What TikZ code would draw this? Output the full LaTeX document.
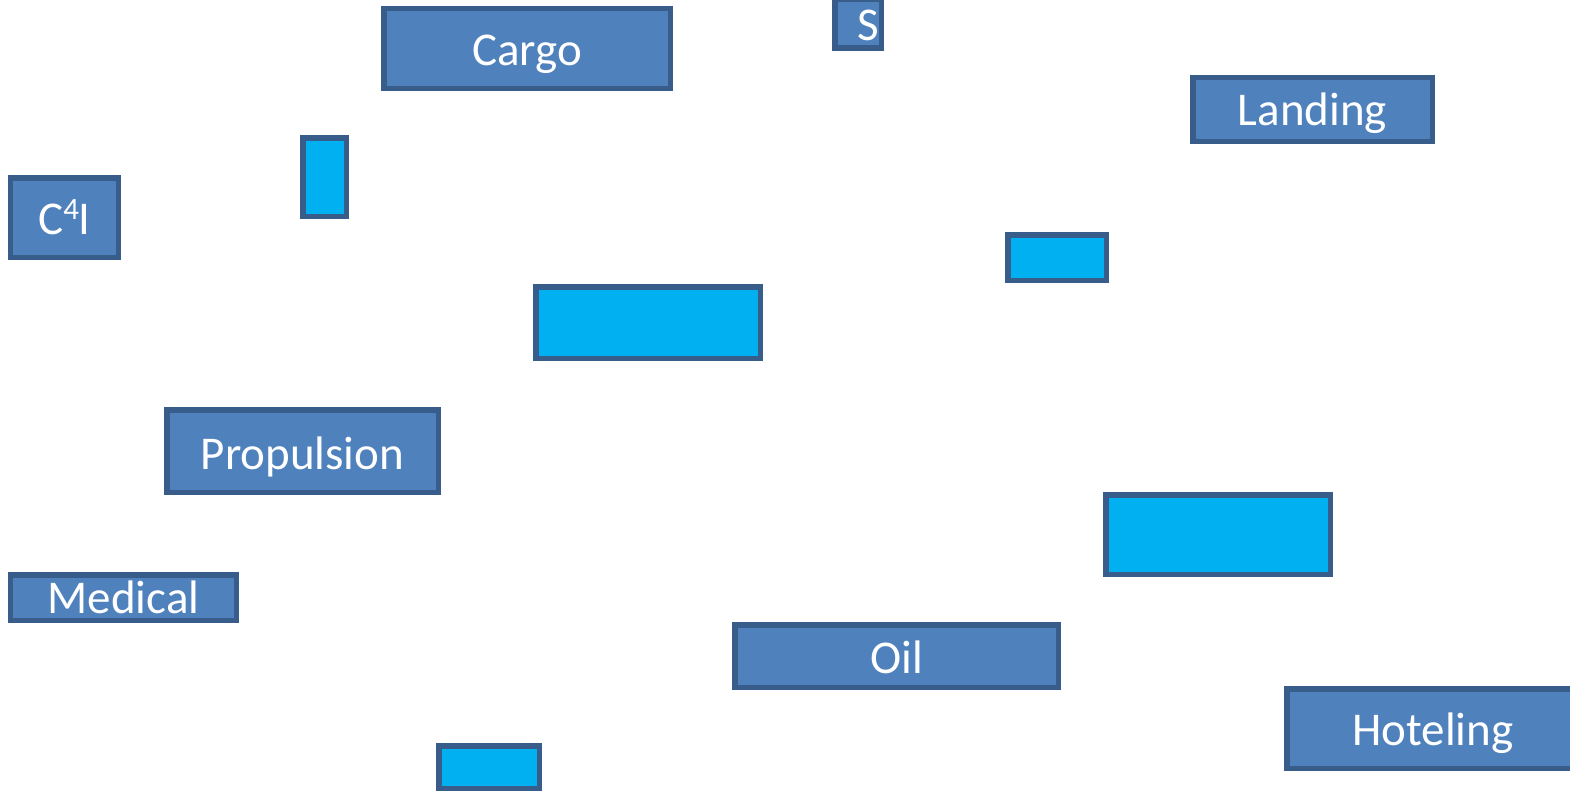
\documentclass[tikz,border=0pt]{standalone}
\usepackage{fontspec}
\setmainfont{Carlito}
\definecolor{boxblue}{HTML}{4F81BD}
\definecolor{boxedge}{HTML}{385D8A}
\definecolor{boxcyan}{HTML}{00B0F0}
\newcommand{\supfour}{\raisebox{0.3em}{\fontsize{31bp}{31bp}\selectfont 4}}
\begin{document}
\begin{tikzpicture}[x=1bp,y=-1bp,
  base/.style={draw=boxedge,line width=5.5bp,inner sep=0pt,outer sep=0pt,
    text depth=0pt,font=\fontsize{47bp}{56bp}\selectfont,text=white},
  bluebox/.style={base,fill=boxblue},
  cyanbox/.style={base,fill=boxcyan},
  sz/.style 2 args={minimum width=#1bp-5.5bp,minimum height=#2bp-5.5bp}]
\useasboundingbox (0,0) rectangle (1570,792);
\begin{scope}
\clip (0,0) rectangle (1570,792);
% labelled blocks
\node[bluebox,sz={292}{85},text height=35bp] (cargo) at (527,48.5) {Cargo};
\node[bluebox,sz={52}{54}] (sbox) at (858,24) {};
\node[text=white,font=\fontsize{47bp}{56bp}\selectfont,inner sep=0pt,anchor=base] (stext) at (868,40.7) {S};
\node[bluebox,sz={245}{69},text height=31bp] (landing) at (1312.5,109.5) {Landing};
\node[bluebox,sz={113}{85},text height=33bp] (c4i) at (64.5,217.5) {C\supfour I};
\node[bluebox,sz={277}{88},text height=36bp] (propulsion) at (302.5,451) {Propulsion};
\node[bluebox,sz={231}{51},text height=31bp] (medical) at (123.5,597.5) {Medical};
\node[bluebox,sz={329}{68},text height=34bp] (oil) at (896.5,656) {Oil};
\node[bluebox,sz={298}{85},text height=33bp] (hoteling) at (1433,728.5) {Hoteling};
% empty blocks
\node[cyanbox,sz={49}{84}] (c1) at (324.5,177) {};
\node[cyanbox,sz={104}{51}] (c2) at (1057,257.5) {};
\node[cyanbox,sz={230}{77}] (c3) at (648,322.5) {};
\node[cyanbox,sz={230}{85}] (c4) at (1218,534.5) {};
\node[cyanbox,sz={106}{48}] (c5) at (489,767) {};
\end{scope}
\end{tikzpicture}
\end{document}
